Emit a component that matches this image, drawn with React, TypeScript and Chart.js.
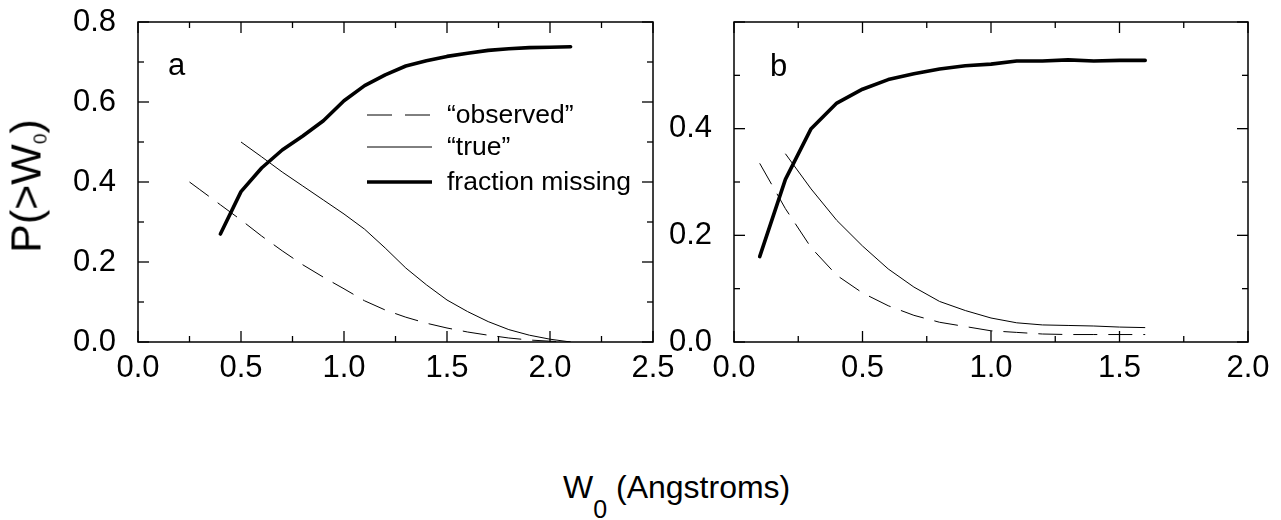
import React, { useEffect, useRef } from 'react';
import { Chart, registerables } from 'chart.js';

Chart.register(...registerables);

const FONT = '"Liberation Sans", Arial, Helvetica, sans-serif';

// ---------- Panel a data ----------
const A_OBS_X = [0.25, 0.3, 0.4, 0.5, 0.6, 0.7, 0.8, 0.9, 1.0, 1.1, 1.2, 1.3, 1.4, 1.5, 1.6, 1.7, 1.8, 1.9, 2.0, 2.1];
const A_OBS_Y = [0.40, 0.381, 0.343, 0.305, 0.265, 0.228, 0.193, 0.162, 0.133, 0.103, 0.080, 0.062, 0.047, 0.035, 0.025, 0.017, 0.010, 0.005, 0.002, 0.0];

const A_TRUE_X = [0.5, 0.6, 0.7, 0.8, 0.9, 1.0, 1.1, 1.2, 1.3, 1.4, 1.5, 1.6, 1.7, 1.8, 1.9, 2.0, 2.1];
const A_TRUE_Y = [0.50, 0.463, 0.425, 0.39, 0.355, 0.32, 0.282, 0.235, 0.185, 0.143, 0.105, 0.076, 0.051, 0.031, 0.017, 0.007, 0.0];

const A_FRAC_X = [0.4, 0.5, 0.6, 0.7, 0.8, 0.9, 1.0, 1.1, 1.2, 1.3, 1.4, 1.5, 1.6, 1.7, 1.8, 1.9, 2.0, 2.1];
const A_FRAC_Y = [0.27, 0.376, 0.435, 0.48, 0.515, 0.553, 0.603, 0.641, 0.668, 0.69, 0.703, 0.714, 0.722, 0.729, 0.733, 0.736, 0.737, 0.738];

// ---------- Panel b data ----------
const B_OBS_X = [0.1, 0.2, 0.3, 0.4, 0.5, 0.6, 0.7, 0.8, 0.9, 1.0, 1.1, 1.2, 1.3, 1.4, 1.5, 1.6];
const B_OBS_Y = [0.335, 0.25, 0.177, 0.125, 0.092, 0.068, 0.05, 0.037, 0.029, 0.021, 0.018, 0.015, 0.014, 0.014, 0.014, 0.014];

const B_TRUE_X = [0.2, 0.3, 0.4, 0.5, 0.6, 0.7, 0.8, 0.9, 1.0, 1.1, 1.2, 1.3, 1.4, 1.5, 1.6];
const B_TRUE_Y = [0.353, 0.287, 0.228, 0.18, 0.137, 0.103, 0.076, 0.059, 0.045, 0.036, 0.032, 0.031, 0.030, 0.028, 0.027];

const B_FRAC_X = [0.1, 0.2, 0.3, 0.4, 0.5, 0.6, 0.7, 0.8, 0.9, 1.0, 1.1, 1.2, 1.3, 1.4, 1.5, 1.6];
const B_FRAC_Y = [0.16, 0.305, 0.40, 0.448, 0.474, 0.492, 0.503, 0.512, 0.518, 0.521, 0.527, 0.527, 0.529, 0.527, 0.528, 0.528];

// ---------- Labels & ticks ----------
const SERIES_LABELS = ['\u201Cobserved\u201D', '\u201Ctrue\u201D', 'fraction missing'];
const PANEL_LABELS = ['a', 'b'];

const A_X_MAJOR = [0.0, 0.5, 1.0, 1.5, 2.0, 2.5];
const A_X_MINOR = [0.25, 0.75, 1.25, 1.75, 2.25];
const A_Y_MAJOR = [0.0, 0.2, 0.4, 0.6, 0.8];
const A_Y_MINOR = [0.1, 0.3, 0.5, 0.7];

const B_X_MAJOR = [0.0, 0.5, 1.0, 1.5, 2.0];
const B_X_MINOR = [0.25, 0.75, 1.25, 1.75];
const B_Y_LABELLED = [0.0, 0.2, 0.4];
const B_Y_MAJOR = [0.0, 0.2, 0.4, 0.6];
const B_Y_MINOR = [0.1, 0.3, 0.5];

const toPts = (xs: number[], ys: number[]) => xs.map((x, i) => ({ x, y: ys[i] }));

function makeDatasets(obsX, obsY, trueX, trueY, fracX, fracY) {
  return [
    {
      label: SERIES_LABELS[0],
      data: toPts(obsX, obsY),
      borderColor: '#000',
      borderWidth: 1,
      borderDash: [24, 11],
      pointRadius: 0,
      tension: 0,
      fill: false,
    },
    {
      label: SERIES_LABELS[1],
      data: toPts(trueX, trueY),
      borderColor: '#000',
      borderWidth: 1,
      pointRadius: 0,
      tension: 0,
      fill: false,
    },
    {
      label: SERIES_LABELS[2],
      data: toPts(fracX, fracY),
      borderColor: '#000',
      borderWidth: 3.6,
      borderCapStyle: 'round',
      borderJoinStyle: 'round',
      pointRadius: 0,
      tension: 0,
      fill: false,
    },
  ];
}

function makeFramePlugin(xMajor, xMinor, yMajor, yMinor, label, labelDx, labelDy) {
  return {
    id: 'frame' + label,
    afterDraw(chart) {
      const { ctx, chartArea } = chart;
      const { left, right, top, bottom } = chartArea;
      const xs = chart.scales.x;
      const ys = chart.scales.y;
      ctx.save();
      ctx.strokeStyle = '#000';
      ctx.lineWidth = 1.5;
      ctx.strokeRect(left, top, right - left, bottom - top);
      ctx.lineWidth = 1.3;
      const seg = (x1, y1, x2, y2) => {
        ctx.beginPath();
        ctx.moveTo(x1, y1);
        ctx.lineTo(x2, y2);
        ctx.stroke();
      };
      const MAJ = 11;
      const MIN = 6;
      xMajor.forEach((v) => {
        const p = xs.getPixelForValue(v);
        seg(p, bottom, p, bottom - MAJ);
        seg(p, top, p, top + MAJ);
      });
      xMinor.forEach((v) => {
        const p = xs.getPixelForValue(v);
        seg(p, bottom, p, bottom - MIN);
        seg(p, top, p, top + MIN);
      });
      yMajor.forEach((v) => {
        const p = ys.getPixelForValue(v);
        seg(left, p, left + MAJ, p);
        seg(right, p, right - MAJ, p);
      });
      yMinor.forEach((v) => {
        const p = ys.getPixelForValue(v);
        seg(left, p, left + MIN, p);
        seg(right, p, right - MIN, p);
      });
      ctx.fillStyle = '#000';
      ctx.font = `31px ${FONT}`;
      ctx.textAlign = 'left';
      ctx.textBaseline = 'alphabetic';
      ctx.fillText(label, left + labelDx, top + labelDy);
      ctx.restore();
    },
  };
}

const legendPlugin = {
  id: 'inlineLegend',
  afterDraw(chart) {
    const { ctx, chartArea } = chart;
    const x0 = chartArea.left + 229;
    const x1 = x0 + 65;
    const rows = [93, 125, 160];
    ctx.save();
    chart.data.datasets.forEach((ds, i) => {
      const y = chartArea.top + rows[i];
      ctx.strokeStyle = '#000';
      ctx.lineWidth = ds.borderWidth;
      ctx.lineCap = 'butt';
      ctx.setLineDash(ds.borderDash ? [25, 13] : []);
      ctx.beginPath();
      ctx.moveTo(x0, y);
      ctx.lineTo(x1, y);
      ctx.stroke();
      ctx.setLineDash([]);
      ctx.fillStyle = '#000';
      ctx.font = `26.5px ${FONT}`;
      ctx.textAlign = 'left';
      ctx.textBaseline = 'middle';
      ctx.fillText(ds.label, x1 + 15, y + 1);
    });
    ctx.restore();
  },
};

function makeOptions(xMin, xMax, xTicks, yMin, yMax, yTicks, yWidth, padRight) {
  const tickFont = { family: FONT, size: 31 };
  return {
    responsive: false,
    animation: false,
    layout: { padding: { left: 0, top: 22, right: padRight, bottom: 0 } },
    plugins: { legend: { display: false }, tooltip: { enabled: false } },
    scales: {
      x: {
        type: 'linear',
        min: xMin,
        max: xMax,
        grid: { display: false, drawTicks: true, tickLength: 8 },
        border: { display: false },
        ticks: {
          color: '#000',
          font: tickFont,
          padding: 0,
          autoSkip: false,
          maxRotation: 0,
          callback: (v) => Number(v).toFixed(1),
        },
        afterBuildTicks: (s) => {
          s.ticks = xTicks.map((v) => ({ value: v }));
        },
        afterFit: (s) => {
          s.height = 78;
        },
      },
      y: {
        type: 'linear',
        min: yMin,
        max: yMax,
        grid: { display: false, drawTicks: true, tickLength: 22 },
        border: { display: false },
        ticks: {
          color: '#000',
          font: tickFont,
          padding: 0,
          autoSkip: false,
          callback: (v) => Number(v).toFixed(1),
        },
        afterBuildTicks: (s) => {
          s.ticks = yTicks.map((v) => ({ value: v }));
        },
        afterFit: (s) => {
          s.width = yWidth;
        },
      },
    },
  };
}

export default function App() {
  const refA = useRef<HTMLCanvasElement | null>(null);
  const refB = useRef<HTMLCanvasElement | null>(null);

  useEffect(() => {
    const chartA = new Chart(refA.current!, {
      type: 'line',
      data: { datasets: makeDatasets(A_OBS_X, A_OBS_Y, A_TRUE_X, A_TRUE_Y, A_FRAC_X, A_FRAC_Y) as any },
      options: makeOptions(0, 2.5, A_X_MAJOR, 0, 0.8, A_Y_MAJOR, 138, 47) as any,
      plugins: [makeFramePlugin(A_X_MAJOR, A_X_MINOR, A_Y_MAJOR, A_Y_MINOR, PANEL_LABELS[0], 30, 53), legendPlugin],
    });
    const chartB = new Chart(refB.current!, {
      type: 'line',
      data: { datasets: makeDatasets(B_OBS_X, B_OBS_Y, B_TRUE_X, B_TRUE_Y, B_FRAC_X, B_FRAC_Y) as any },
      options: makeOptions(0, 2.0, B_X_MAJOR, 0, 0.6, B_Y_LABELLED, 94, 33) as any,
      plugins: [makeFramePlugin(B_X_MAJOR, B_X_MINOR, B_Y_MAJOR, B_Y_MINOR, PANEL_LABELS[1], 36, 54)],
    });
    return () => {
      chartA.destroy();
      chartB.destroy();
    };
  }, []);

  return (
    <div
      style={{
        position: 'fixed',
        left: 0,
        top: 0,
        width: 1281,
        height: 520,
        background: '#fff',
        overflow: 'hidden',
        fontFamily: FONT,
        color: '#000',
      }}
    >
      <canvas
        ref={refA}
        width={700}
        height={420}
        style={{ position: 'absolute', left: 0, top: 0, width: 700, height: 420 }}
      />
      <canvas
        ref={refB}
        width={641}
        height={420}
        style={{ position: 'absolute', left: 640, top: 0, width: 641, height: 420 }}
      />
      <div
        style={{
          position: 'absolute',
          left: 30,
          top: 186,
          transform: 'translate(-50%, -50%) rotate(-90deg)',
          fontSize: 43,
          lineHeight: '43px',
          whiteSpace: 'nowrap',
        }}
      >
        P(&gt;W<span style={{ fontSize: 19, position: 'relative', top: 6 }}>0</span>)
      </div>
      <div
        style={{
          position: 'absolute',
          left: 563,
          top: 471,
          fontSize: 32,
          lineHeight: '32px',
          whiteSpace: 'nowrap',
        }}
      >
        W<span style={{ fontSize: 25, position: 'relative', top: 20 }}>0</span> (Angstroms)
      </div>
    </div>
  );
}
